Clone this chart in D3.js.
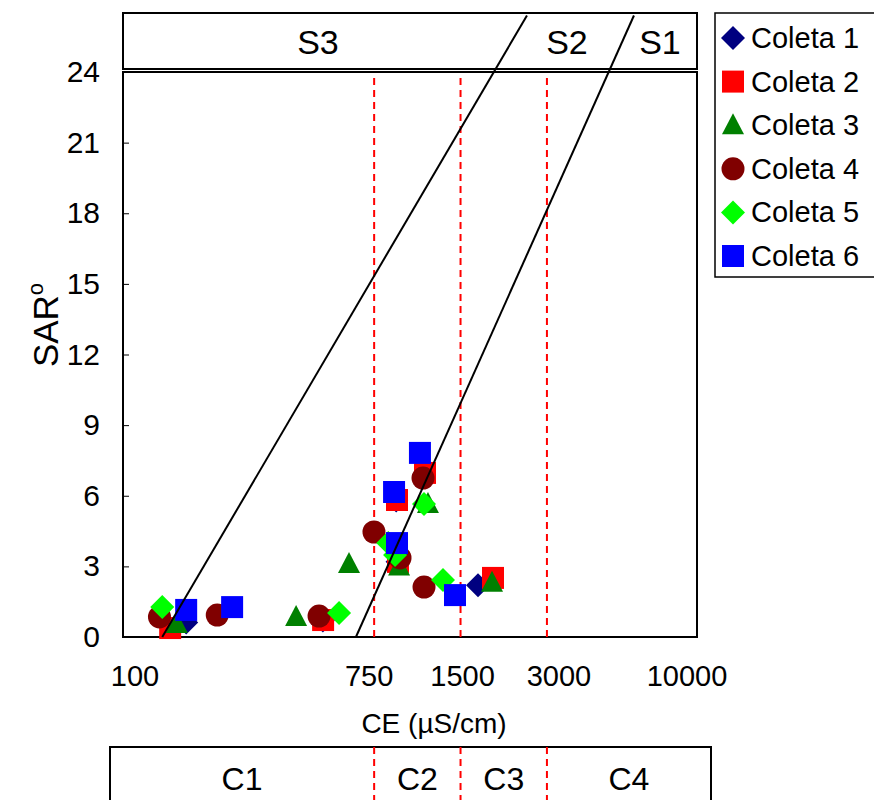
<!DOCTYPE html>
<html>
<head>
<meta charset="utf-8">
<script src="https://cdn.jsdelivr.net/npm/d3@7"></script>
<style>
  body { margin: 0; background: #fff; }
  text { font-family: "Liberation Sans", Arial, sans-serif; fill: #000; }
</style>
</head>
<body>
<div id="chart"></div>
<script>
// series: [CE (uS/cm), SAR]
const coleta1 = [[166, 0.62], [497, 0.7], [905, 3.2], [1120, 6.9], [1726, 2.2], [895, 5.8]]
const coleta2 = [[146, 0.38], [498, 0.72], [1128, 6.97], [901, 5.82], [908, 3.19], [1946, 2.51]]
const coleta3 = [[154, 0.55], [401, 0.85], [613, 3.1], [1155, 5.65], [916, 3.0], [1931, 2.3]]
const coleta4 = [[134, 0.85], [213, 0.93], [482, 0.89], [749, 4.46], [1110, 6.75], [923, 3.36], [1119, 2.12]]
const coleta5 = [[137, 1.27], [566, 1.02], [887, 3.48], [840, 3.99], [1119, 5.65], [1303, 2.42]]
const coleta6 = [[166, 1.15], [240, 1.27], [1083, 7.82], [880, 6.16], [901, 3.99], [1435, 1.78]]

const seriesNames = ['Coleta 1', 'Coleta 2', 'Coleta 3', 'Coleta 4', 'Coleta 5', 'Coleta 6']
const xTicks = [100, 750, 1500, 3000, 10000]
const yTicks = [0, 3, 6, 9, 12, 15, 18, 21, 24]
const classLimits = [750, 1500, 3000]
const cLabels = ['C1', 'C2', 'C3', 'C4']
const sLabels = [['S3', 478], ['S2', 3524], ['S1', 7430]]
// sodicity boundary lines [CE, SAR] -> [CE, SAR]
const sLines = [[[137, 0], [2556, 26.4]], [[648, 0], [6030, 26.4]]]

const width = 874
const height = 800
const plot = { left: 123, right: 697, top: 72, bottom: 637 }
const fs = 29

const series = [
  { name: seriesNames[0], data: coleta1, color: '#000080', shape: 'diamond' },
  { name: seriesNames[1], data: coleta2, color: '#ff0000', shape: 'square' },
  { name: seriesNames[2], data: coleta3, color: '#008000', shape: 'triangle' },
  { name: seriesNames[3], data: coleta4, color: '#800000', shape: 'circle' },
  { name: seriesNames[4], data: coleta5, color: '#00ff00', shape: 'diamond' },
  { name: seriesNames[5], data: coleta6, color: '#0000ff', shape: 'square' }
]

const shapes = {
  diamond: 'M0,-12L12,0L0,12L-12,0Z',
  square: 'M-11,-11H11V11H-11Z',
  triangle: 'M0,-12L11,9L-11,9Z',
  circle: 'M11.5,0A11.5,11.5 0 1,1 -11.5,0A11.5,11.5 0 1,1 11.5,0Z'
}

const x = d3.scaleLog().domain([100, 10000]).range([plot.left, plot.right])
const y = d3.scaleLinear().domain([0, 24]).range([plot.bottom, plot.top])

const svg = d3.select('#chart')
  .append('svg')
  .attr('width', width)
  .attr('height', height)

// header box with S classes
svg.append('rect')
  .attr('x', plot.left).attr('y', 13)
  .attr('width', plot.right - plot.left).attr('height', 56)
  .attr('fill', 'none').attr('stroke', '#000').attr('stroke-width', 2)

svg.selectAll('.slab')
  .data(sLabels)
  .join('text')
  .attr('x', d => x(d[1]))
  .attr('y', 54)
  .attr('text-anchor', 'middle')
  .attr('font-size', 34)
  .text(d => d[0])

// plot frame
svg.append('rect')
  .attr('x', plot.left).attr('y', plot.top)
  .attr('width', plot.right - plot.left).attr('height', plot.bottom - plot.top)
  .attr('fill', 'none').attr('stroke', '#000').attr('stroke-width', 2)

// y axis
const yAxis = g => g
  .attr('transform', `translate(${plot.left},0)`)
  .call(d3.axisRight(y).tickValues(yTicks).tickSize(6).tickFormat(d3.format('d')))
  .call(g => g.select('.domain').remove())
  .call(g => g.selectAll('.tick line').attr('stroke', '#000'))
  .call(g => g.selectAll('.tick text')
    .attr('x', -23).attr('text-anchor', 'end')
    .attr('font-size', 30).attr('font-family', '"Liberation Sans", Arial, sans-serif')
    .attr('fill', '#000'))
svg.append('g').call(yAxis)

// x labels (custom positions, no tick marks)
const xNudge = { 100: 12, 750: -5, 1500: 2, 3000: 12, 10000: -10 }
svg.selectAll('.xlab')
  .data(xTicks)
  .join('text')
  .attr('x', d => x(d) + xNudge[d])
  .attr('y', 686)
  .attr('text-anchor', 'middle')
  .attr('font-size', fs)
  .text(d => d)

svg.append('text')
  .attr('x', 434).attr('y', 733)
  .attr('text-anchor', 'middle')
  .attr('font-size', 28)
  .text('CE (\u00b5S/cm)')

const yl = svg.append('text')
  .attr('transform', 'translate(58,325) rotate(-90)')
  .attr('text-anchor', 'middle')
  .attr('font-size', 35)
yl.append('tspan').text('SAR')
yl.append('tspan').attr('font-size', 22).attr('dy', -15).text('o')

// red dashed class limits
svg.selectAll('.lim')
  .data(classLimits)
  .join('line')
  .attr('x1', d => x(d)).attr('x2', d => x(d))
  .attr('y1', plot.top + 6).attr('y2', plot.bottom)
  .attr('stroke', '#ff0000').attr('stroke-width', 2)
  .attr('stroke-dasharray', '7,5')

// bottom C box
const cBox = { left: 110, right: 711, top: 747 }
svg.append('rect')
  .attr('x', cBox.left).attr('y', cBox.top)
  .attr('width', cBox.right - cBox.left).attr('height', 70)
  .attr('fill', 'none').attr('stroke', '#000').attr('stroke-width', 2)

svg.selectAll('.limc')
  .data(classLimits)
  .join('line')
  .attr('x1', d => x(d)).attr('x2', d => x(d))
  .attr('y1', cBox.top).attr('y2', height)
  .attr('stroke', '#ff0000').attr('stroke-width', 2)
  .attr('stroke-dasharray', '7,5')

const edges = [cBox.left, ...classLimits.map(d => x(d)), cBox.right]
svg.selectAll('.clab')
  .data(cLabels)
  .join('text')
  .attr('x', (d, i) => (edges[i] + edges[i + 1]) / 2)
  .attr('y', 790)
  .attr('text-anchor', 'middle')
  .attr('font-size', 32)
  .text(d => d)

// points
series.forEach(s => {
  svg.append('g')
    .selectAll('path')
    .data(s.data)
    .join('path')
    .attr('transform', d => `translate(${x(d[0])},${y(d[1])})`)
    .attr('d', shapes[s.shape])
    .attr('fill', s.color)
})

// S boundary lines (drawn over the points)
const line = d3.line().x(d => x(d[0])).y(d => y(d[1]))
svg.selectAll('.sline')
  .data(sLines)
  .join('path')
  .attr('d', line)
  .attr('fill', 'none')
  .attr('stroke', '#000')
  .attr('stroke-width', 2)

// legend
const lg = svg.append('g')
lg.append('rect')
  .attr('x', 715).attr('y', 13)
  .attr('width', 170).attr('height', 264)
  .attr('fill', '#fff').attr('stroke', '#000').attr('stroke-width', 1.5)

const row = lg.selectAll('.row')
  .data(series)
  .join('g')
  .attr('transform', (d, i) => `translate(733,${38 + i * 43.6})`)
row.append('path')
  .attr('d', d => shapes[d.shape])
  .attr('fill', d => d.color)
row.append('text')
  .attr('x', 18).attr('y', 10)
  .attr('font-size', fs)
  .text(d => d.name)
</script>
</body>
</html>
